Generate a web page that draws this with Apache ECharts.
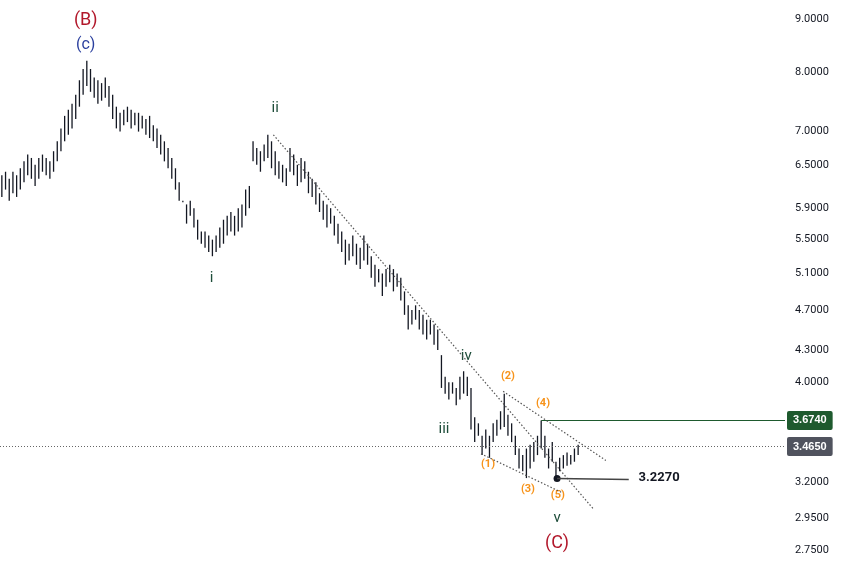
<!DOCTYPE html>
<html><head><meta charset="utf-8">
<script src="https://cdn.jsdelivr.net/npm/echarts@6/dist/echarts.min.js"></script>
<style>html,body{margin:0;padding:0;background:#fff}#c{width:849px;height:571px}</style>
</head><body><div id="c"></div>
<script>
const lows=[6.05,6.15,6.00,6.10,6.05,6.15,6.25,6.35,6.30,6.20,6.30,6.40,6.35,6.30,6.40,6.55,6.70,6.85,6.95,7.05,
7.20,7.40,7.60,7.75,7.65,7.55,7.45,7.50,7.55,7.40,7.20,7.05,7.00,7.10,7.15,7.05,7.10,7.00,7.05,6.95,
6.90,6.85,6.75,6.65,6.55,6.45,6.30,6.15,6.00,5.98,5.70,5.80,5.65,5.50,5.45,5.40,5.35,5.30,5.35,5.40,
5.45,5.55,5.60,5.55,5.60,5.65,5.80,5.90,6.55,6.50,6.40,6.55,6.60,6.45,6.35,6.30,6.25,6.20,6.40,6.35,
6.20,6.25,6.30,6.10,6.05,5.95,5.85,5.75,5.65,5.70,5.55,5.45,5.35,5.20,5.25,5.30,5.20,5.15,5.25,5.20,
5.05,4.95,5.00,4.85,4.95,5.00,4.90,4.95,4.80,4.65,4.50,4.55,4.60,4.50,4.45,4.40,4.45,4.35,4.30,3.95,
3.90,3.85,3.90,3.80,3.85,3.90,3.88,3.60,3.50,3.55,3.40,3.45,3.38,3.50,3.55,3.60,3.62,3.55,3.50,3.40,
3.30,3.28,3.23,3.30,3.35,3.40,3.45,3.38,3.30,3.35,3.227,3.28,3.30,3.32,3.33,3.35,3.40];
const highs=[6.35,6.40,6.30,6.40,6.35,6.45,6.55,6.65,6.60,6.50,6.60,6.65,6.60,6.55,6.70,6.85,7.05,7.25,7.35,7.45,
7.60,7.85,8.05,8.20,8.05,7.90,7.85,7.80,7.90,7.75,7.60,7.40,7.30,7.35,7.40,7.35,7.30,7.30,7.25,7.20,
7.25,7.10,7.05,6.95,6.85,6.75,6.60,6.45,6.25,6.00,5.95,6.00,5.90,5.75,5.60,5.60,5.55,5.50,5.55,5.65,
5.75,5.80,5.85,5.80,5.90,5.95,6.15,6.20,6.85,6.75,6.70,6.80,6.95,6.85,6.70,6.55,6.50,6.45,6.75,6.65,
6.50,6.60,6.55,6.40,6.30,6.25,6.10,6.00,5.95,5.90,5.80,5.70,5.60,5.50,5.45,5.55,5.45,5.40,5.55,5.45,
5.30,5.20,5.15,5.10,5.15,5.20,5.15,5.10,5.05,4.90,4.75,4.70,4.75,4.70,4.65,4.60,4.60,4.55,4.50,4.25,
4.05,4.00,4.00,3.95,4.05,4.10,4.05,3.95,3.70,3.65,3.55,3.60,3.55,3.65,3.68,3.75,3.90,3.72,3.65,3.55,
3.45,3.40,3.45,3.48,3.50,3.55,3.674,3.55,3.45,3.50,3.35,3.38,3.40,3.42,3.40,3.45,3.48];
const yTicks=[2.75,2.95,3.2,3.5,4.0,4.3,4.7,5.1,5.5,5.9,6.5,7.0,8.0,9.0];
const waveLabels=[['(B)',22.7,8.96,'#b2182b',18],['(c)',22.7,8.49,'#2a3f9e',16],['ii',74,7.38,'#1e4d3a',15],['i',56.8,5.05,'#1e4d3a',15],
['iii',119.7,3.60,'#1e4d3a',15],['iv',125.7,4.24,'#1e4d3a',15],['v',150.3,2.95,'#1e4d3a',15],['(C)',150.3,2.79,'#b2182b',18]];
const subLabels=[['(1)',131.6,3.33],['(2)',137,4.05],['(3)',142.4,3.15],['(4)',146.5,3.82],['(5)',150.5,3.11]];
const bars=highs.map((h,i)=>[i,lows[i],h]);
const chart=echarts.init(document.getElementById('c'));
const full={itemStyle:{opacity:1}};
chart.setOption({
 animation:false,
 grid:{left:0,right:64,top:0,bottom:0},
 xAxis:{type:'value',min:-0.5,max:212,show:false},
 yAxis:{type:'log',position:'right',min:2.625,max:9.39,splitLine:{show:false},axisLine:{show:false},axisTick:{show:false},
  axisLabel:{customValues:yTicks,margin:10,color:'#131722',fontSize:11,fontFamily:'Roboto',formatter:v=>(+v).toFixed(4)}},
 series:[
 {type:'custom',data:bars,renderItem:(p,api)=>{const a=api.coord([api.value(0),api.value(1)]);const b=api.coord([api.value(0),api.value(2)]);
   return {type:'line',shape:{x1:a[0],y1:a[1],x2:b[0],y2:b[1]},style:{stroke:'#131722',lineWidth:1.3}};},
  markLine:{silent:true,symbol:'none',data:[
   [{coord:[-0.5,3.465],lineStyle:{color:'#666',type:[1,2],width:1}},{coord:[212,3.465]}],
   [{coord:[146,3.674],lineStyle:{color:'#1e5a2e',type:'solid',width:1}},{coord:[212,3.674]}],
   [{coord:[73.5,6.95],lineStyle:{color:'#555',type:[1.5,2],width:1.2}},{coord:[160.3,3.01]}],
   [{coord:[135.7,3.92],lineStyle:{color:'#555',type:[1.5,2],width:1.2}},{coord:[163.5,3.36]}],
   [{coord:[129.7,3.41],lineStyle:{color:'#555',type:[1.5,2],width:1.2}},{coord:[151.4,3.13]}],
   [{coord:[150.3,3.227],lineStyle:{color:'#444',type:'solid',width:1.5}},{coord:[169.7,3.22]}]
  ],label:{show:false}}},
 {type:'scatter',symbolSize:0,silent:true,...full,data:waveLabels.map(d=>({value:[d[1],d[2]],label:{show:true,formatter:d[0],color:d[3],fontSize:d[4],fontFamily:'Roboto',position:'inside'}}))},
 {type:'scatter',symbolSize:0,silent:true,...full,data:subLabels.map(d=>({value:[d[1],d[2]],label:{show:true,formatter:d[0],color:'#f7931a',fontSize:11,fontWeight:'bold',fontFamily:'Roboto',position:'inside'}}))},
 {type:'scatter',symbolSize:7,itemStyle:{color:'#131722',opacity:1},data:[[150.3,3.227]],
  label:{show:true,formatter:'3.2270',position:[85,-4],color:'#131722',fontWeight:'bold',fontSize:13,fontFamily:'Roboto'}},
 {type:'scatter',symbolSize:0,silent:true,...full,data:[
   {value:[212,3.674],label:{show:true,formatter:'3.6740',position:'right',distance:2,color:'#fff',fontWeight:'bold',fontSize:11,backgroundColor:'#1e5a2e',padding:[4,6],borderRadius:2}},
   {value:[212,3.465],label:{show:true,formatter:'3.4650',position:'right',distance:2,color:'#fff',fontWeight:'bold',fontSize:11,backgroundColor:'#50535e',padding:[4,6],borderRadius:2}}]}
 ]
});
</script></body></html>
